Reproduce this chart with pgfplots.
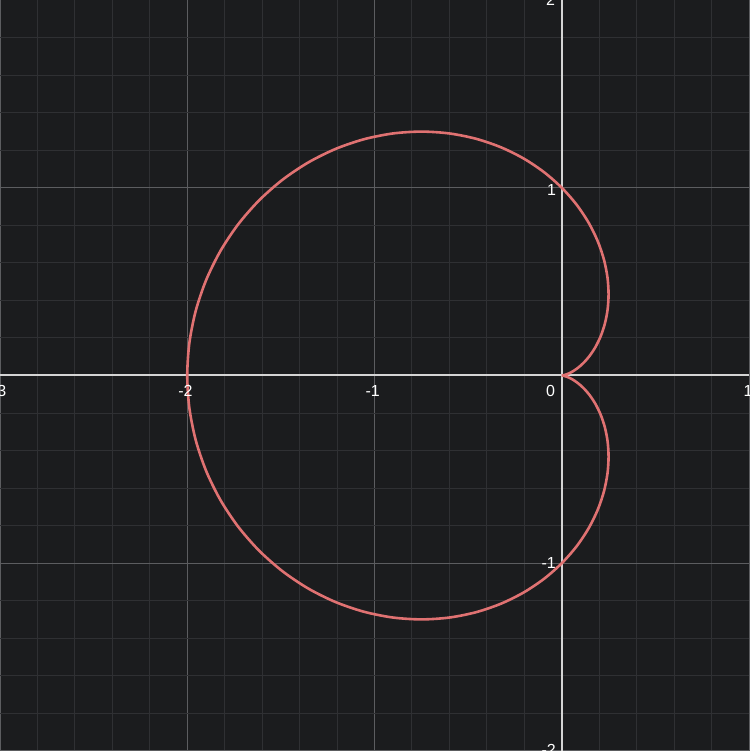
\documentclass[border=0pt]{standalone}
\usepackage{fontspec}
\setmainfont{Liberation Sans}
\usepackage{pgfplots}
\pgfplotsset{compat=1.18}
\definecolor{bg}{HTML}{1B1C1E}
\definecolor{minorg}{HTML}{2F3033}
\definecolor{majorg}{HTML}{5C5D60}
\definecolor{axcol}{HTML}{D4D4D4}
\definecolor{curve}{HTML}{E07272}
\begin{document}
\begin{tikzpicture}
\begin{axis}[
  scale only axis, width=749pt, height=751pt,
  xmin=-3, xmax=1, ymin=-2, ymax=2,
  xtick={-3,-2,-1,1}, ytick={-2,-1,1,2},
  minor xtick={-2.8,-2.6,-2.4,-2.2,-1.8,-1.6,-1.4,-1.2,-0.8,-0.6,-0.4,-0.2,0.2,0.4,0.6,0.8},
  minor ytick={-1.8,-1.6,-1.4,-1.2,-0.8,-0.6,-0.4,-0.2,0.2,0.4,0.6,0.8,1.2,1.4,1.6,1.8},
  xticklabels={}, yticklabels={},
  major tick length=0pt, minor tick length=0pt,
  grid=both,
  major grid style={majorg, line width=1pt},
  minor grid style={minorg, line width=1pt},
  axis line style={draw=none},
  axis background/.style={fill=bg},
  extra x ticks={0}, extra y ticks={0},
  extra x tick labels={}, extra y tick labels={},
  extra x tick style={grid=major, major grid style={axcol, line width=2pt}},
  extra y tick style={grid=major, major grid style={axcol, line width=2pt}},
  clip=true,
]
\addplot[curve, line width=2.6pt, smooth] coordinates {
(0,0) (0.003790,0.000332) (0.014961,0.002638) (0.032913,0.008819) (0.056670,0.020626)
(0.084914,0.039596) (0.116025,0.066987) (0.148142,0.103730) (0.179221,0.150384)
(0.207107,0.207107) (0.229612,0.273640) (0.244587,0.349308) (0.25,0.433013)
(0.244012,0.523286) (0.225042,0.618299) (0.191832,0.715926) (0.143494,0.813798)
(0.079560,0.909371) (0,1) (-0.094752,1.083019) (-0.203802,1.155818)
(-0.325806,1.215926) (-0.458998,1.261086) (-0.601224,1.289329) (-0.75,1.299038)
(-0.902558,1.288990) (-1.055964,1.258448) (-1.207107,1.207107) (-1.352867,1.135190)
(-1.490157,1.043423) (-1.616025,0.933013) (-1.727705,0.805637) (-1.822710,0.663415)
(-1.898939,0.508825) (-1.954655,0.344658) (-1.988600,0.173983) (-2,0)
(-1.988600,-0.173983) (-1.954655,-0.344658) (-1.898939,-0.508825) (-1.822710,-0.663415)
(-1.727705,-0.805637) (-1.616025,-0.933013) (-1.490157,-1.043423) (-1.352867,-1.135190)
(-1.207107,-1.207107) (-1.055964,-1.258448) (-0.902558,-1.288990) (-0.75,-1.299038)
(-0.601224,-1.289329) (-0.458998,-1.261086) (-0.325806,-1.215926) (-0.203802,-1.155818)
(-0.094752,-1.083019) (0,-1) (0.079560,-0.909371) (0.143494,-0.813798)
(0.191832,-0.715926) (0.225042,-0.618299) (0.244012,-0.523286) (0.25,-0.433013)
(0.244587,-0.349308) (0.229612,-0.273640) (0.207107,-0.207107) (0.179221,-0.150384)
(0.148142,-0.103730) (0.116025,-0.066987) (0.084914,-0.039596) (0.056670,-0.020626)
(0.032913,-0.008819) (0.014961,-0.002638) (0.003790,-0.000332) (0,0)
};
\tikzset{lab/.style={text=white, font=\fontsize{16}{18}\selectfont, inner sep=0pt}}
\node[lab] at (axis cs:-3.005,-0.08) {-3};
\node[lab] at (axis cs:-2.01,-0.08) {-2};
\node[lab] at (axis cs:-1.01,-0.08) {-1};
\node[lab] at (axis cs:-0.06,-0.08) {0};
\node[lab] at (axis cs:0.995,-0.08) {1};
\node[lab] at (axis cs:-0.06,2.0) {2};
\node[lab] at (axis cs:-0.055,0.99) {1};
\node[lab] at (axis cs:-0.07,-1.0) {-1};
\node[lab] at (axis cs:-0.07,-1.995) {-2};
\end{axis}
\pgfresetboundingbox
\path[use as bounding box] (current axis.south west) rectangle (current axis.north east);
\end{tikzpicture}
\end{document}
